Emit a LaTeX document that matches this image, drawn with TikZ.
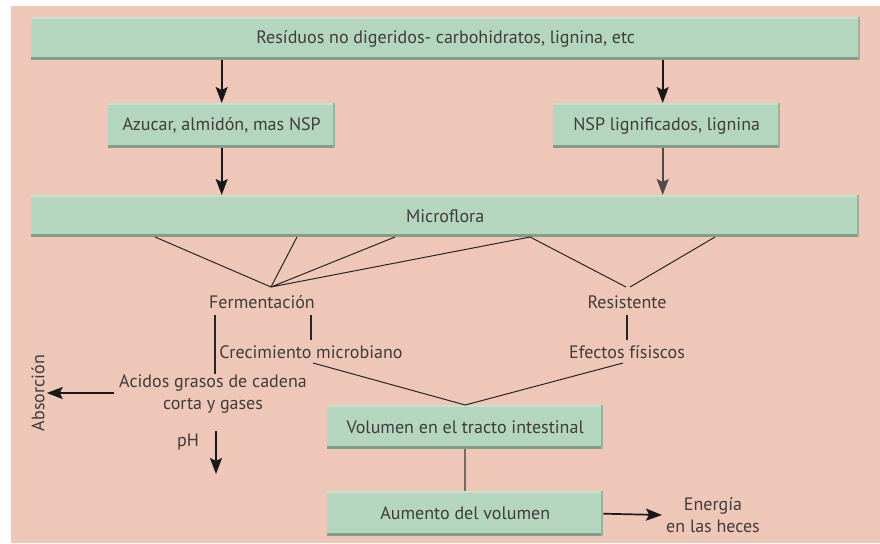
\documentclass[tikz,border=0pt]{standalone}
\usepackage{fontspec}
\setmainfont{PT Sans}
\usetikzlibrary{arrows.meta}
\definecolor{bg}{HTML}{EEC7B8}
\definecolor{boxfill}{HTML}{B4D6BF}
\definecolor{boxedge}{HTML}{849D8A}
\definecolor{boxlight}{HTML}{C6E2CE}
\definecolor{ink}{HTML}{403C3C}
\definecolor{link}{HTML}{7A6A66}
\begin{document}
\begin{tikzpicture}[x=1pt,y=-1pt,
  every node/.style={font=\fontsize{18}{22}\selectfont, text=ink},
  box/.style={fill=boxfill, inner sep=0pt, anchor=north west,
    path picture={
      \fill[boxlight] (path picture bounding box.north west) rectangle ([yshift=-2pt]path picture bounding box.north east);
      \fill[boxedge] (path picture bounding box.south west) rectangle ([yshift=3pt]path picture bounding box.south east);
      \fill[boxedge!60!boxfill] ([xshift=-2pt]path picture bounding box.north east) rectangle (path picture bounding box.south east);
    }},
  label/.style={inner sep=0pt, align=center},
  arr/.style={-{Stealth[length=16pt,width=12pt,inset=3pt]}, line width=1.7pt, draw=black!90},
  fan/.style={line width=1pt, draw=black!85},
  bar/.style={line width=2pt, draw=black!85}]
\useasboundingbox (0,0) rectangle (880,543);
\fill[white] (0,0) rectangle (880,543);
\fill[bg] (11,6) rectangle (880,543);

% boxes
\node[box, minimum width=829pt, minimum height=43pt] (top) at (31,17) {Resíduos no digeridos- carbohidratos, lignina, etc};
\node[box, minimum width=227pt, minimum height=45pt] (azu) at (108,103) {Azucar, almidón, mas NSP};
\node[box, minimum width=227pt, minimum height=45pt] (nsp) at (553,103) {NSP lignificados, lignina};
\node[box, minimum width=828pt, minimum height=42pt] (micro) at (31,195) {Microflora};
\node[box, minimum width=276pt, minimum height=44pt] (vol) at (327,405) {Volumen en el tracto intestinal};
\node[box, minimum width=276pt, minimum height=45pt] (aum) at (327,491) {Aumento del volumen};

% free labels
\node[label] (ferm) at (262,302) {Fermentación};
\node[label] (res) at (627,302) {Resistente};
\node[label] (crec) at (311,352) {Crecimiento microbiano};
\node[label] (efec) at (627,352) {Efectos físiscos};
\node[label] (acid) at (213,394) {Acidos grasos de cadena\\corta y gases};
\node[label, rotate=90] (abs) at (38,393) {Absorción};
\node[label] (ph) at (188,442) {pH};
\node[label] (ener) at (713,515) {Energía\\en las heces};

% arrows between boxes
\draw[arr] (azu.north |- top.south) -- (azu.north);
\draw[arr] ([xshift=-4pt]nsp.north |- top.south) -- ([xshift=-4pt]nsp.north);
\draw[arr] (azu.south) -- (azu.south |- micro.north);
\draw[arr, draw=link!70!black] ([xshift=-4pt]nsp.south) -- ([xshift=-4pt]nsp.south |- micro.north);

% fan of lines from Microflora
\coordinate (fc) at (271,287);
\coordinate (rcl) at (626,287);
\coordinate (rcr) at (630,287);
\coordinate (m1) at (155,237);
\coordinate (m2) at (297,237);
\coordinate (m3) at (395,237);
\coordinate (m4) at (530,237);
\coordinate (m5) at (715,237);
\draw[fan] (m1) -- (fc) -- (m2);
\draw[fan] (m3) -- (fc) -- (m4) -- (rcl);
\draw[fan] (rcr) -- (m5);

% short bars below the process labels
\coordinate (b1) at (215,315);
\coordinate (b2) at (311,315);
\coordinate (b3) at (627,315);
\draw[bar] (b1) -- (215,374);
\draw[bar] (b2) -- (311,340);
\draw[bar] (b3) -- (627,340);

% growth and physical effects join into the volume box
\coordinate (g1) at (313,363);
\coordinate (g2) at (623,363);
\draw[fan] (g1) -- (vol.north) -- (g2);

% outputs
\coordinate (a1) at (114,393);
\draw[arr] (a1) -- ([xshift=2pt]a1 -| abs.south);
\coordinate (ph1) at (216,431);
\coordinate (ph2) at (216,474);
\draw[arr] (ph1) -- (ph2);
\draw[line width=2pt, draw=link] (vol.south) -- (aum.north);
\draw[arr] (aum.east) -- ([xshift=-4pt]ener.west);
\end{tikzpicture}
\end{document}
